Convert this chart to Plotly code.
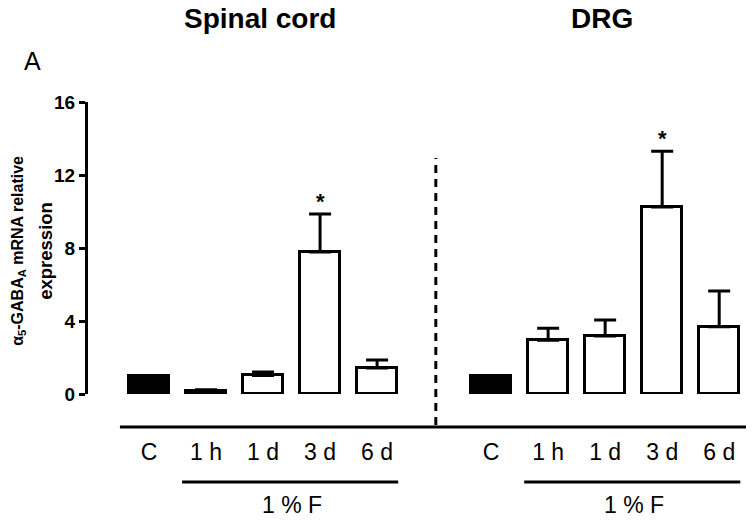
import plotly.graph_objects as go

# categories and values
groups = ["Spinal cord", "DRG"]
time_labels = ["C", "1 h", "1 d", "3 d", "6 d"]
spinal_mean = [1.0, 0.18, 1.02, 7.78, 1.42]
spinal_sem = [0.0, 0.05, 0.18, 2.08, 0.44]
drg_mean = [1.0, 2.95, 3.18, 10.25, 3.68]
drg_sem = [0.0, 0.65, 0.87, 3.05, 1.97]
signif = [False, False, False, True, False]
y_ticks = [0, 4, 8, 12, 16]
y_title = ["α<sub>5</sub>-GABA<sub>A</sub> mRNA relative", "expression"]

# positions: first group 0..4, gap, second group 6..10
pos_left = list(range(len(time_labels)))
pos_right = [p + len(time_labels) + 1 for p in pos_left]
positions = pos_left + pos_right
means = spinal_mean + drg_mean
sems = spinal_sem + drg_sem
fills = ["black" if lab == "C" else "white" for lab in time_labels] * 2

sans = "Liberation Sans, Arial"

fig = go.Figure()
fig.add_trace(go.Bar(
    x=positions,
    y=means,
    width=0.7,
    marker=dict(color=fills, line=dict(color="black", width=3)),
    error_y=dict(type="data", array=sems, arrayminus=[0] * len(sems),
                 symmetric=False, color="black", thickness=3, width=11),
    showlegend=False,
    hoverinfo="skip",
))

annotations = []
# significance stars
for i, s in enumerate(signif * 2):
    if s:
        annotations.append(dict(x=positions[i], y=means[i] + sems[i], text="<b>*</b>",
                                showarrow=False, yanchor="bottom", yshift=-2,
                                font=dict(family=sans, size=22, color="black")))

# group titles and treatment labels
for g, ps in zip(groups, [pos_left, pos_right]):
    annotations.append(dict(x=(ps[0] + ps[-1]) / 2 - 0.05, xref="x", y=1.285, yref="paper",
                            text="<b>%s</b>" % g, showarrow=False, yanchor="middle",
                            font=dict(family=sans, size=28, color="black")))
    annotations.append(dict(x=(ps[1] + ps[-1]) / 2, xref="x", y=-0.38, yref="paper",
                            text="1 % F", showarrow=False, yanchor="middle",
                            font=dict(family=sans, size=23, color="black")))

annotations.append(dict(x=-0.1003, xref="paper", y=1.14, yref="paper", text="A",
                        showarrow=False, xanchor="left", yanchor="middle",
                        font=dict(family=sans, size=25, color="black")))

# y axis title, two rotated lines
for line, xp, fs in zip(y_title, [-0.105, -0.064], [16, 18.5]):
    annotations.append(dict(x=xp, xref="paper", y=0.49, yref="paper",
                            text="<b>%s</b>" % line, textangle=-90, showarrow=False,
                            xanchor="center", yanchor="middle",
                            font=dict(family=sans, size=fs, color="black")))

shapes = [
    # baseline under both panels
    dict(type="line", xref="x", yref="paper", x0=-0.51, x1=positions[-1] + 0.47,
         y0=-0.113, y1=-0.113, line=dict(color="black", width=3)),
    # dashed separator
    dict(type="line", xref="x", yref="paper", x0=len(time_labels) + 0.03, x1=len(time_labels) + 0.03,
         y0=-0.106, y1=0.808, line=dict(color="black", width=3, dash="8px,6px")),
]
for ps in [pos_left, pos_right]:
    shapes.append(dict(type="line", xref="x", yref="paper", x0=ps[1] - 0.42, x1=ps[-1] + 0.37,
                       y0=-0.301, y1=-0.301, line=dict(color="black", width=3)))

fig.update_layout(
    width=754, height=521,
    margin=dict(l=88, r=8, t=102, b=127),
    plot_bgcolor="white", paper_bgcolor="white",
    annotations=annotations, shapes=shapes,
    bargap=0,
)
fig.update_xaxes(
    range=[-1.07, positions[-1] + 0.47],
    tickvals=positions, ticktext=time_labels * 2,
    showline=False, showgrid=False, zeroline=False, ticks="",
    ticklabelstandoff=42, automargin=False,
    tickfont=dict(family=sans, size=23, color="black"),
)
fig.update_yaxes(
    range=[0, 16], tickvals=y_ticks,
    showline=True, linecolor="black", linewidth=3,
    ticks="outside", ticklen=6, tickwidth=3, tickcolor="black",
    showgrid=False, zeroline=False, automargin=False,
    tickfont=dict(family=sans, size=19, color="black"),
    ticktext=["<b>%d</b>" % t for t in y_ticks],
)

# page body has a default 8px margin; drop it so the figure sits at the corner
fig.write_html("out.html", config={"displayModeBar": False},
               post_script="document.body.style.margin='0';")
